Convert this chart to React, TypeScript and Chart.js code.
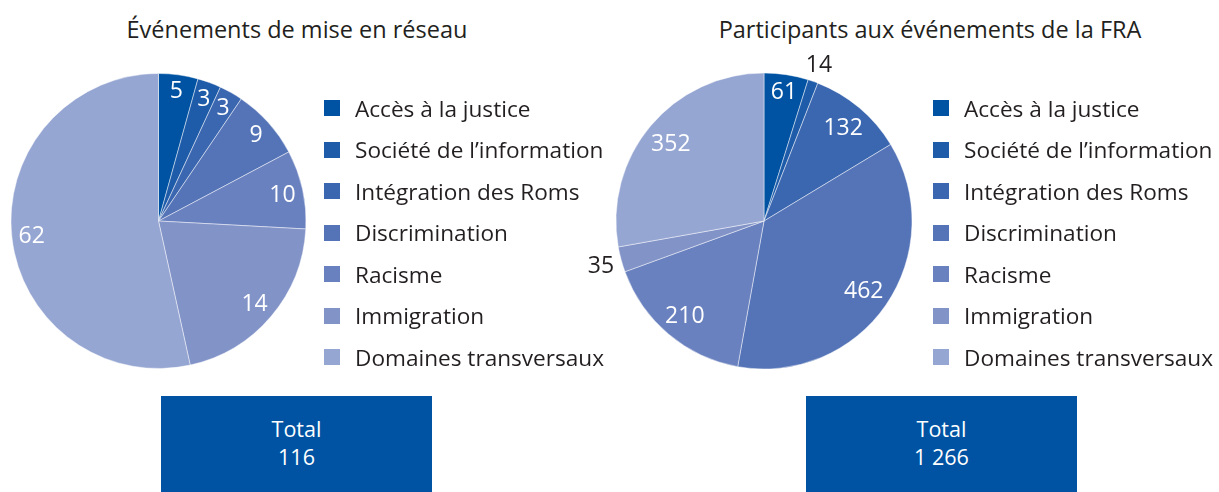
import React, { useEffect, useRef } from "react";
import { Chart, registerables } from "chart.js";
Chart.register(...registerables);

const categories = [
  "Accès à la justice",
  "Société de l’information",
  "Intégration des Roms",
  "Discrimination",
  "Racisme",
  "Immigration",
  "Domaines transversaux",
];
const sliceColors = ["#0052A2", "#1E5CA9", "#3B67B0", "#5474B7", "#6A81BF", "#8293C8", "#96A6D2"];
const eventsValues = [5, 3, 3, 9, 10, 24, 62];
const eventsLabels = ["5", "3", "3", "9", "10", "14", "62"];
const participantsValues = [61, 14, 132, 462, 210, 35, 352];
const participantsLabels = ["61", "14", "132", "462", "210", "35", "352"];
const titles = ["Événements de mise en réseau", "Participants aux événements de la FRA"];
const totalLabel = "Total";
const totals = ["116", "1 266"];

const FONT = "'Open Sans', 'Noto Sans', sans-serif";
const TEXT = "#231F20";

const labelPlugin = (labels: string[]) => ({
  id: "sliceLabels",
  afterDatasetsDraw(chart: any) {
    const ctx = chart.ctx;
    const meta = chart.getDatasetMeta(0);
    const fs = 23;
    ctx.save();
    ctx.font = `${fs}px ${FONT}`;
    ctx.textAlign = "center";
    ctx.textBaseline = "alphabetic";
    const capH = fs * 0.72;
    meta.data.forEach((arc: any, i: number) => {
      const { x, y, startAngle, endAngle, outerRadius } = arc.getProps(
        ["x", "y", "startAngle", "endAngle", "outerRadius"],
        true
      );
      const txt = labels[i];
      const w = ctx.measureText(txt).width;
      const mid = (startAngle + endAngle) / 2;
      const c = Math.cos(mid);
      const s = Math.sin(mid);
      const half = Math.abs(c) * (w / 2) + Math.abs(s) * (capH / 2);
      const arcLen = (endAngle - startAngle) * (outerRadius - 17);
      let r: number;
      if (arcLen < w + 4) {
        r = outerRadius + 6 + half;
        ctx.fillStyle = TEXT;
      } else {
        r = outerRadius - 6 - half;
        ctx.fillStyle = "#FFFFFF";
      }
      ctx.fillText(txt, x + c * r, y + s * r + capH / 2);
    });
    ctx.restore();
  },
});

type PieProps = {
  values: number[];
  labels: string[];
  left: number;
  top: number;
  width: number;
  height: number;
  padding: { left: number; right: number; top: number; bottom: number };
};

function Pie({ values, labels, left, top, width, height, padding }: PieProps) {
  const ref = useRef<HTMLCanvasElement | null>(null);
  useEffect(() => {
    if (!ref.current) return;
    const chart = new Chart(ref.current, {
      type: "pie",
      data: {
        labels: categories,
        datasets: [
          {
            data: values,
            backgroundColor: sliceColors,
            borderColor: "rgba(255,255,255,0.45)",
            borderWidth: 1,
          },
        ],
      },
      options: {
        responsive: false,
        animation: false,
        devicePixelRatio: 1,
        layout: { padding },
        plugins: {
          legend: { display: false },
          tooltip: { enabled: false },
          title: { display: false },
        },
      },
      plugins: [labelPlugin(labels)],
    });
    return () => chart.destroy();
  }, []);
  return (
    <canvas
      ref={ref}
      width={width}
      height={height}
      style={{ position: "absolute", left, top, width, height }}
    />
  );
}

function Legend({ left }: { left: number }) {
  return (
    <>
      {categories.map((c, i) => (
        <div
          key={c}
          style={{
            position: "absolute",
            left,
            top: 108 + i * 41.5 - 15,
            height: 30,
            display: "flex",
            alignItems: "center",
            whiteSpace: "nowrap",
          }}
        >
          <div style={{ width: 16, height: 16, background: sliceColors[i], marginRight: 15 }} />
          <span style={{ fontFamily: FONT, fontSize: 22.6, color: TEXT }}>{c}</span>
        </div>
      ))}
    </>
  );
}

function Title({ text, cx }: { text: string; cx: number }) {
  return (
    <div
      style={{
        position: "absolute",
        left: cx - 300,
        width: 600,
        top: 13,
        textAlign: "center",
        fontFamily: FONT,
        fontSize: 23.5,
        lineHeight: "32px",
        color: TEXT,
        whiteSpace: "nowrap",
      }}
    >
      {text}
    </div>
  );
}

function TotalBox({ left, value }: { left: number; value: string }) {
  return (
    <div
      style={{
        position: "absolute",
        left,
        top: 396,
        width: 271,
        height: 96,
        background: "#0053A3",
        color: "#FFFFFF",
        fontFamily: FONT,
        fontSize: 21.5,
        textAlign: "center",
        lineHeight: "28px",
        paddingTop: 19,
        boxSizing: "border-box",
      }}
    >
      <div>{totalLabel}</div>
      <div>{value}</div>
    </div>
  );
}

export default function App() {
  return (
    <div
      style={{
        position: "absolute",
        left: 0,
        top: 0,
        width: 1219,
        height: 492,
        overflow: "hidden",
        background: "#FFFFFF",
      }}
    >
      <Title text={titles[0]} cx={297} />
      <Title text={titles[1]} cx={930} />
      <Pie
        values={eventsValues}
        labels={eventsLabels}
        left={0}
        top={51}
        width={330}
        height={340}
        padding={{ left: 10.5, right: 23.5, top: 22, bottom: 22 }}
      />
      <Pie
        values={participantsValues}
        labels={participantsLabels}
        left={560}
        top={51}
        width={380}
        height={340}
        padding={{ left: 55.5, right: 27.5, top: 21.5, bottom: 21.5 }}
      />
      <Legend left={324} />
      <Legend left={933} />
      <TotalBox left={161} value={totals[0]} />
      <TotalBox left={806} value={totals[1]} />
    </div>
  );
}
